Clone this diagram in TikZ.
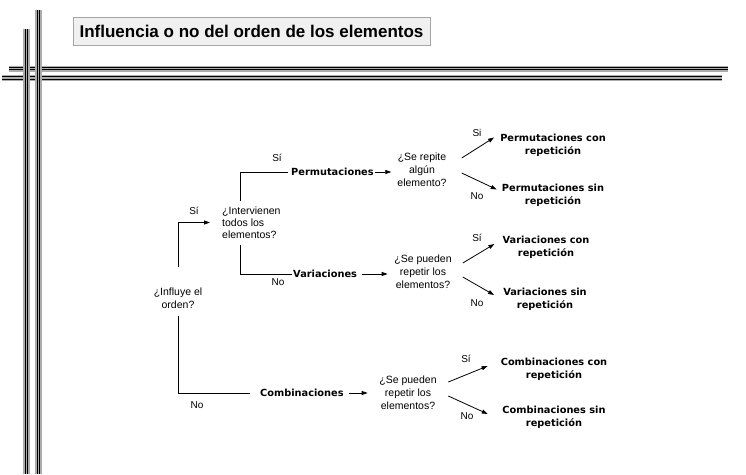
\documentclass[tikz,border=0pt]{standalone}
\usepackage{fontspec}
\setmainfont{Liberation Sans}
\newfontfamily\heavyfont{DejaVu Sans}
\usetikzlibrary{arrows.meta,positioning}

\begin{document}
\begin{tikzpicture}[
    x=1pt, y=-1pt,
    quest/.style={font=\fontsize{10.5}{13}\selectfont, align=center, inner sep=0pt},
    result/.style={font=\heavyfont\bfseries\fontsize{9.8}{13}\selectfont, align=center, inner sep=0pt},
    lbl/.style={font=\fontsize{10}{12}\selectfont, inner sep=0pt},
    link/.style={line width=0.8pt},
    arr/.style={link, -{Triangle[length=6pt,width=4pt]}},
    bandfill/.style={fill=gray!65},
    bandline/.style={black, line width=0.6pt},
    titlebox/.style={draw=gray!70, fill=gray!12, minimum width=357pt, minimum height=28pt,
                     font=\bfseries\fontsize{17}{20}\selectfont}
]
    \useasboundingbox (0,0) rectangle (746,474);

    % === FRAME BANDS ===
    \fill[bandfill] (9,66) rectangle (728,72);
    \draw[bandline] (9,67) -- (728,67);
    \draw[bandline] (9,69.5) -- (728,69.5);
    \fill[bandfill] (2,75) rectangle (722,81);
    \draw[bandline] (2,76.5) -- (722,76.5);
    \draw[bandline] (2,79.5) -- (722,79.5);
    \fill[bandfill] (23,29) rectangle (30,474);
    \draw[bandline] (25.3,29) -- (25.3,474);
    \draw[bandline] (27.7,29) -- (27.7,474);
    \fill[bandfill] (35,10) rectangle (42,474);
    \draw[bandline] (37.3,10) -- (37.3,474);
    \draw[bandline] (39.7,10) -- (39.7,474);

    % === TITLE ===
    \node[titlebox] (title) at (251.5,31) {Influencia o no del orden de los elementos};

    % === QUESTIONS ===
    \node[quest] (influye) at (178,298) {¿Influye el\\orden?};
    \node[quest, align=left, anchor=west, font=\fontsize{10.5}{12}\selectfont] (intervienen) at (222,222.5) {¿Intervienen\\todos los\\elementos?};
    \node[quest] (repite) at (422,170) {¿Se repite\\algún\\elemento?};
    \node[quest] (puedenV) at (423,272) {¿Se pueden\\repetir los\\elementos?};
    \node[quest] (puedenC) at (408,393) {¿Se pueden\\repetir los\\elementos?};

    % === MAIN CLASSES ===
    \node[result, anchor=west] (permut) at (291,172) {Permutaciones};
    \node[result, anchor=west] (variac) at (293,274) {Variaciones};
    \node[result, anchor=west] (combin) at (260,393) {Combinaciones};

    % === RESULTS ===
    \node[result] (pcon) at (553,145.5) {Permutaciones con\\repetición};
    \node[result] (psin) at (553,195.5) {Permutaciones sin\\repetición};
    \node[result] (vcon) at (546,247.5) {Variaciones con\\repetición};
    \node[result] (vsin) at (545,299.5) {Variaciones sin\\repetición};
    \node[result] (ccon) at (554,369.5) {Combinaciones con\\repetición};
    \node[result] (csin) at (554,417.5) {Combinaciones sin\\repetición};

    % === LABELS ===
    \node[lbl] (siA) at (194,211) {Sí};
    \node[lbl] (noA) at (197,405) {No};
    \node[lbl] (siB) at (277,158) {Sí};
    \node[lbl] (noB) at (278,282) {No};
    \node[lbl] (siP) at (477,133) {Si};
    \node[lbl] (noP) at (477,196) {No};
    \node[lbl] (siV) at (477,238) {Sí};
    \node[lbl] (noV) at (477,303) {No};
    \node[lbl] (siC) at (466,359) {Sí};
    \node[lbl] (noC) at (467,416) {No};

    % === CONNECTORS ===
    \draw[arr, shorten >=12pt] ([yshift=20pt]influye.north) |- (intervienen.west);
    \draw[link, shorten >=10pt] ([yshift=-7pt]influye.south) |- (combin.west);
    \draw[link, shorten >=3pt] ([xshift=18pt,yshift=5pt]intervienen.north west) |- (permut.west);
    \draw[link, shorten >=1pt] ([xshift=18pt,yshift=-6pt]intervienen.south west) |- (variac.west);

    \draw[arr, shorten <=1.5pt, shorten >=6pt] (permut.east) -- (permut.east -| repite.west);
    \draw[arr, shorten <=4.5pt, shorten >=6.5pt] (variac.east) -- (variac.east -| puedenV.west);
    \draw[arr, shorten <=5.5pt, shorten >=11.5pt] (combin.east) -- (combin.east -| puedenC.west);

    \draw[arr] ([shift={(15,-12)}]repite.east) -- ([shift={(-6,-8)}]pcon.west);
    \draw[arr] ([shift={(15,3)}]repite.east) -- ([shift={(-5,-6)}]psin.west);
    \draw[arr] ([shift={(11,-9)}]puedenV.east) -- ([shift={(-8,-3.5)}]vcon.west);
    \draw[arr] ([shift={(11,5)}]puedenV.east) -- ([shift={(-9,-4.5)}]vsin.west);
    \draw[arr] ([shift={(11.5,-11)}]puedenC.east) -- ([shift={(-13,-3.5)}]ccon.west);
    \draw[arr] ([shift={(11.5,3)}]puedenC.east) -- ([shift={(-14.5,-3.5)}]csin.west);

\end{tikzpicture}
\end{document}
